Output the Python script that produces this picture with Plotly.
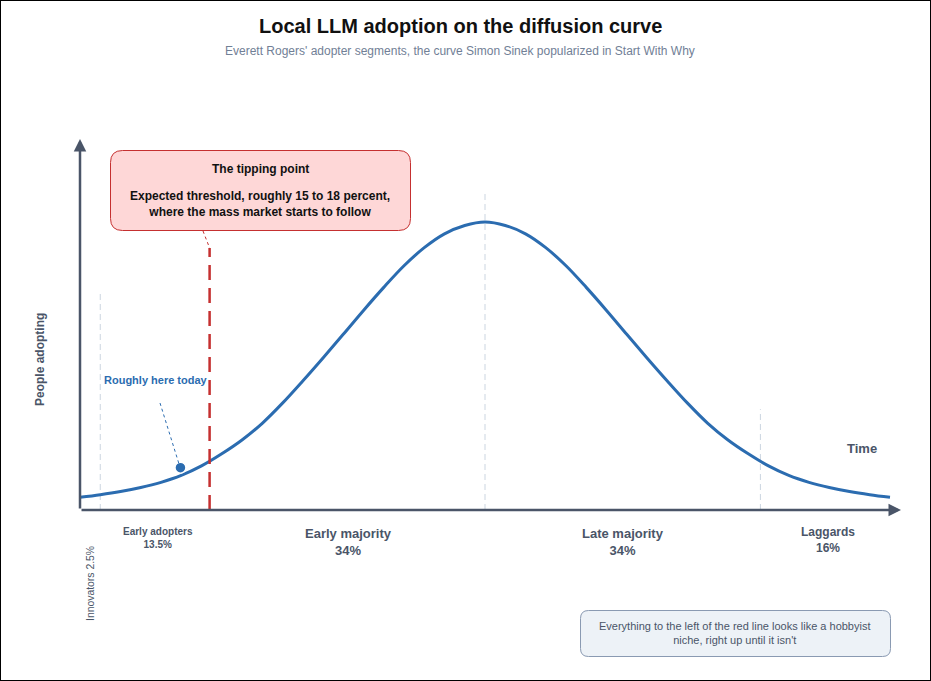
import plotly.graph_objects as go

# ---- data ----
time_pct = [0, 2.5, 5, 7.5, 10, 12.5, 15, 17.5, 20, 22.5, 25, 27.5, 30, 32.5, 35, 37.5, 40, 42.5, 45, 47.5,
            50, 52.5, 55, 57.5, 60, 62.5, 65, 67.5, 70, 72.5, 75, 77.5, 80, 82.5, 85, 87.5, 90, 92.5, 95, 97.5, 100]
adopting = [4.4, 5.3, 6.4, 7.8, 9.6, 12.0, 15.3, 19.5, 24.3, 30.1, 37.1, 44.8, 52.8, 61.0, 69.3, 77.3, 84.8, 91.1, 95.9, 98.8,
            100, 98.8, 95.9, 91.1, 84.8, 77.3, 69.3, 61.0, 52.8, 44.8, 37.1, 30.1, 24.3, 19.5, 15.3, 12.0, 9.6, 7.8, 6.4, 5.3, 4.4]

segment_names = ["Innovators", "Early adopters", "Early majority", "Late majority", "Laggards"]
segment_shares = ["2.5%", "13.5%", "34%", "34%", "16%"]
boundaries = [2.5, 16, 50, 84]          # cumulative share at each segment boundary
boundary_tops = [76, 91, 111, 35]        # how high each boundary marker reaches
today_x = [12.4]
today_y = [14.7]

W, H = 931, 681
# pixel <-> data mapping (x: 0..100 spans px 80..890; y: 0 at px 510, 100 at px 222)
def X(px):
    return (px - 80) / 8.1
def Y(py):
    return (510 - py) / 2.88

AXIS = "#4a5568"
BLUE = "#2b6cb0"
RED = "#c53030"
FONT = "Liberation Sans, Arial, sans-serif"

fig = go.Figure()

# light gray boundary guides (innovators, mean, laggards)
for b, top in zip([boundaries[0], boundaries[2], boundaries[3]], [boundary_tops[0], boundary_tops[2], boundary_tops[3]]):
    fig.add_trace(go.Scatter(x=[b, b], y=[0, top], mode="lines",
                             line=dict(color="#cbd5e0", width=1, dash="6px,4px"),
                             hoverinfo="skip", showlegend=False))

# the curve
fig.add_trace(go.Scatter(x=time_pct, y=adopting, mode="lines",
                         line=dict(color=BLUE, width=3, shape="spline", smoothing=1.0),
                         hoverinfo="skip", showlegend=False))

# red tipping point line
fig.add_trace(go.Scatter(x=[boundaries[1], boundaries[1]], y=[0, boundary_tops[1]], mode="lines",
                         line=dict(color=RED, width=2.5, dash="15px,8px"),
                         hoverinfo="skip", showlegend=False))

# today marker
fig.add_trace(go.Scatter(x=today_x, y=today_y, mode="markers",
                         marker=dict(color=BLUE, size=11, line=dict(color="white", width=1.5)),
                         hoverinfo="skip", showlegend=False))

shapes = []
annotations = []

def rounded_rect(x0, y0, x1, y1, r):
    def P(px, py):
        return f"{X(px):.4f},{Y(py):.4f}"
    path = (f"M {P(x0 + r, y0)} L {P(x1 - r, y0)} Q {P(x1, y0)} {P(x1, y0 + r)} "
            f"L {P(x1, y1 - r)} Q {P(x1, y1)} {P(x1 - r, y1)} "
            f"L {P(x0 + r, y1)} Q {P(x0, y1)} {P(x0, y1 - r)} "
            f"L {P(x0, y0 + r)} Q {P(x0, y0)} {P(x0 + r, y0)} Z")
    return path

# tipping point box
shapes.append(dict(type="path", xref="x", yref="y", path=rounded_rect(110.5, 150.5, 410.5, 230.5, 12),
                   fillcolor="#fed7d7", line=dict(color=RED, width=1), layer="above"))
# connector box -> red line
shapes.append(dict(type="line", xref="x", yref="y", x0=X(203), y0=Y(231), x1=boundaries[1], y1=boundary_tops[1],
                   line=dict(color=RED, width=1, dash="dot")))
# note box
shapes.append(dict(type="path", xref="x", yref="y", path=rounded_rect(580.5, 610.5, 890.5, 656.5, 8),
                   fillcolor="#edf2f7", line=dict(color="#8a9ab2", width=1), layer="above"))
# blue connector
shapes.append(dict(type="line", xref="x", yref="y", x0=X(160), y0=Y(403), x1=today_x[0] - 0.2, y1=today_y[0] + 1.5,
                   line=dict(color=BLUE, width=1, dash="dot")))
# outer frame
shapes.append(dict(type="rect", xref="paper", yref="paper", x0=0, y0=0, x1=1, y1=1,
                   line=dict(color="black", width=2), fillcolor="rgba(0,0,0,0)"))

# axes arrows
annotations.append(dict(x=X(901), y=0, ax=0, ay=0, xref="x", yref="y", axref="x", ayref="y",
                        showarrow=True, arrowhead=2, arrowsize=1, arrowwidth=2.5, arrowcolor=AXIS, text=""))
annotations.append(dict(x=0, y=Y(139), ax=0, ay=0, xref="x", yref="y", axref="x", ayref="y",
                        showarrow=True, arrowhead=2, arrowsize=1, arrowwidth=2.5, arrowcolor=AXIS, text=""))

def txt(px, py, text, size, color, bold=False, angle=0, align="center"):
    t = f"<b>{text}</b>" if bold else text
    annotations.append(dict(x=X(px), y=Y(py), xref="x", yref="y", text=t, showarrow=False,
                            font=dict(family=FONT, size=size, color=color), align=align,
                            textangle=angle, xanchor="center", yanchor="middle"))

# title and subtitle
txt(460, 26, "Local LLM adoption on the diffusion curve", 20, "#111111", bold=True)
txt(460, 51, "Everett Rogers' adopter segments, the curve Simon Sinek popularized in Start With Why", 12, "#718096")

# tipping point text
txt(260, 169, "The tipping point", 12, "#111111", bold=True)
txt(260, 204, "Expected threshold, roughly 15 to 18 percent,<br>where the mass market starts to follow", 12, "#111111", bold=True)

txt(156, 380, "Roughly here today", 11, BLUE, bold=True)

# axis labels
txt(862, 448, "Time", 13, AXIS, bold=True)
txt(40, 360, "People adopting", 12, AXIS, bold=True, angle=-90)

# segment labels
txt(90, 584, f"{segment_names[0]} {segment_shares[0]}", 10.4, AXIS, angle=-90)
txt(158, 538, f"{segment_names[1]}<br>{segment_shares[1]}", 10, AXIS, bold=True)
txt(348, 542, f"{segment_names[2]}<br>{segment_shares[2]}", 13, AXIS, bold=True)
txt(623, 542, f"{segment_names[3]}<br>{segment_shares[3]}", 13, AXIS, bold=True)
txt(828, 540, f"{segment_names[4]}<br>{segment_shares[4]}", 12, AXIS, bold=True)

# note
txt(735, 633, "Everything to the left of the red line looks like a hobbyist<br>niche, right up until it isn't", 11, "#4a5568")

fig.update_layout(
    width=W, height=H,
    margin=dict(l=0, r=0, t=0, b=0),
    paper_bgcolor="white", plot_bgcolor="white",
    xaxis=dict(range=[X(0), X(W)], visible=False, fixedrange=True),
    yaxis=dict(range=[Y(H), Y(0)], visible=False, fixedrange=True),
    shapes=shapes, annotations=annotations,
    font=dict(family=FONT),
    showlegend=False,
)

fig.write_html("out.html", config={"displayModeBar": False},
               post_script="document.body.style.margin='0';document.body.style.overflow='hidden';")
